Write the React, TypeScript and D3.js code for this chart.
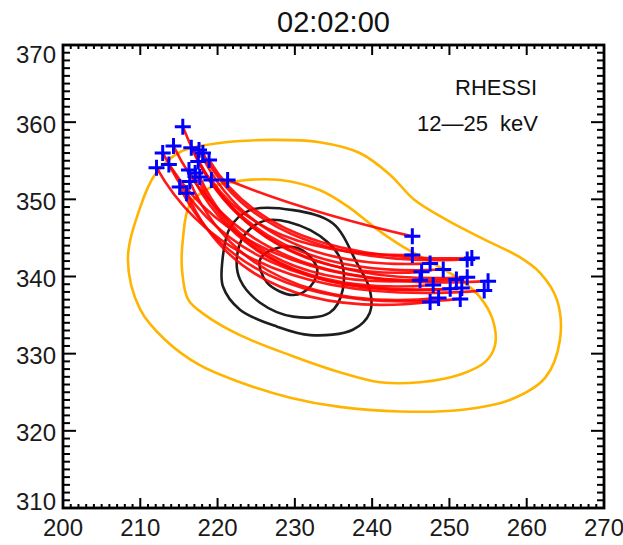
import React from "react";
import * as d3 from "d3";

// Axis ranges and tick labels (arcsec)
const X_DOMAIN: [number, number] = [200, 270];
const Y_DOMAIN: [number, number] = [310, 370];
const X_TICKS = [200, 210, 220, 230, 240, 250, 260, 270];
const Y_TICKS = [310, 320, 330, 340, 350, 360, 370];

const TITLE = "02:02:00";
const INSTRUMENT = "RHESSI";
const ENERGY_BAND = "12—25  keV";

// RHESSI 12-25 keV contour levels (outer to inner), as [x, y] in arcsec
const ORANGE_OUTER: [number, number][] = [
  [210.0, 349.0], [208.4, 342.2], [210.0, 335.7], [213.2, 331.8], [217.7, 328.5],
  [222.9, 326.3], [229.4, 324.3], [235.8, 323.1], [243.6, 322.5], [251.4, 322.7],
  [257.8, 324.0], [262.4, 326.9], [264.3, 331.8], [263.9, 337.0], [261.7, 340.5],
  [259.1, 342.5], [253.9, 345.1], [249.7, 347.3], [245.5, 349.9], [242.3, 353.2],
  [238.4, 356.0], [233.2, 357.4], [226.8, 357.7], [220.3, 357.3], [215.1, 356.1],
  [211.9, 353.2],
];
const ORANGE_INNER: [number, number][] = [
  [215.5, 344.7], [215.4, 340.9], [216.2, 337.0], [218.4, 335.0], [222.9, 332.4],
  [229.4, 329.8], [235.8, 327.6], [241.0, 326.3], [246.2, 326.3], [251.4, 327.3],
  [254.6, 328.9], [255.9, 331.1], [255.6, 334.4], [253.9, 337.4], [251.4, 339.6],
  [247.5, 341.9], [243.6, 344.1], [240.4, 346.3], [237.1, 348.9], [233.2, 351.2],
  [228.1, 352.5], [222.9, 352.4], [219.0, 351.5], [216.4, 349.3],
];
const BLACK_OUTER: [number, number][] = [
  [220.6, 341.8], [220.7, 338.7], [222.9, 335.7], [227.7, 333.5], [232.0, 332.4],
  [237.5, 333.1], [239.7, 335.3], [239.7, 338.3], [238.0, 341.8], [234.9, 346.9],
  [229.8, 348.6], [224.2, 348.6], [221.6, 346.3],
];
const BLACK_MIDDLE: [number, number][] = [
  [222.5, 342.5], [222.9, 339.6], [225.5, 336.6], [229.8, 334.8], [234.5, 335.3],
  [236.2, 338.3], [235.8, 342.5], [232.0, 346.0], [226.4, 347.3], [223.5, 345.4],
];
const BLACK_INNER: [number, number][] = [
  [225.5, 342.2], [226.4, 339.2], [229.8, 337.6], [232.0, 338.7], [232.9, 340.9],
  [231.0, 343.4], [228.1, 343.8],
];

// Field lines: start footpoint, bend point, end footpoint (arcsec)
const LOOP_START: [number, number][] = [
  [221.3, 352.5], [219.2, 352.5], [218.9, 355.1], [218.1, 356.0], [217.6, 356.4],
  [216.6, 356.7], [215.5, 359.4], [217.5, 354.9], [214.3, 356.9], [217.7, 352.9],
  [212.9, 356.0], [217.1, 353.4], [213.7, 354.5], [216.3, 353.8], [212.1, 354.1],
  [216.4, 352.3], [215.1, 351.6], [216.0, 350.8],
];
const LOOP_BEND: [number, number][] = [
  [231.0, 348.5], [226.0, 342.5], [227.0, 341.5], [226.0, 341.0], [225.0, 340.5],
  [224.5, 339.5], [223.5, 339.0], [226.0, 338.5], [223.5, 338.0], [224.5, 338.0],
  [223.0, 337.5], [224.5, 337.0], [223.0, 336.5], [224.5, 336.5], [222.5, 335.5],
  [224.0, 335.0], [223.5, 334.5], [223.5, 334.0],
];
const LOOP_END: [number, number][] = [
  [245.2, 345.2], [245.2, 342.8], [252.9, 342.4], [252.3, 342.2], [247.5, 341.7],
  [249.2, 340.9], [246.4, 340.6], [252.3, 339.9], [250.9, 339.6], [246.2, 339.5],
  [255.0, 339.4], [247.9, 338.9], [251.6, 338.5], [250.1, 338.4], [254.5, 338.2],
  [248.6, 337.2], [251.4, 337.1], [247.5, 336.7],
];

const W = 623;
const H = 545;
const LEFT = 63;
const RIGHT = 604;
const TOP = 45;
const BOTTOM = 508;

const FONT = "'Liberation Sans', Arial, Helvetica, sans-serif";
const ORANGE = "#ffb400";

export default function App() {
  const x = d3.scaleLinear().domain(X_DOMAIN).range([LEFT, RIGHT]);
  const y = d3.scaleLinear().domain(Y_DOMAIN).range([BOTTOM, TOP]);

  const closed = d3
    .line<[number, number]>()
    .x((d) => x(d[0]))
    .y((d) => y(d[1]))
    .curve(d3.curveCatmullRomClosed.alpha(0.5));

  const loopPath = (i: number) => {
    const p = d3.path();
    const [x0, y0] = LOOP_START[i];
    const [xc, yc] = LOOP_BEND[i];
    const [x1, y1] = LOOP_END[i];
    p.moveTo(x(x0), y(y0));
    p.quadraticCurveTo(x(xc), y(yc), x(x1), y(y1));
    return p.toString();
  };

  const crosses = [...LOOP_START, ...LOOP_END];
  const arm = 8;

  const xMinor = d3.range(X_DOMAIN[0], X_DOMAIN[1] + 0.5, 1);
  const yMinor = d3.range(Y_DOMAIN[0], Y_DOMAIN[1] + 0.5, 1);

  const yLabelPos = (v: number) => Math.min(501, Math.max(54, y(v) + 2));

  return (
    <svg
      width={W}
      height={H}
      style={{ position: "absolute", left: 0, top: 0, background: "#fff" }}
    >
      <rect x={0} y={0} width={W} height={H} fill="#fff" />

      <text
        x={(LEFT + RIGHT) / 2}
        y={22}
        textAnchor="middle"
        dominantBaseline="central"
        fontFamily={FONT}
        fontSize={29}
        fill="#111"
      >
        {TITLE}
      </text>

      {/* contours */}
      <g fill="none" strokeLinejoin="round">
        <path d={closed(ORANGE_OUTER) ?? ""} stroke={ORANGE} strokeWidth={2.6} />
        <path d={closed(ORANGE_INNER) ?? ""} stroke={ORANGE} strokeWidth={2.6} />
        <path d={closed(BLACK_OUTER) ?? ""} stroke="#1e1e1e" strokeWidth={2.6} />
        <path d={closed(BLACK_MIDDLE) ?? ""} stroke="#1e1e1e" strokeWidth={2.6} />
        <path d={closed(BLACK_INNER) ?? ""} stroke="#1e1e1e" strokeWidth={2.6} />
      </g>

      {/* field lines */}
      <g fill="none" stroke="#ff0000" strokeWidth={2.6} strokeOpacity={0.9}>
        {LOOP_START.map((_, i) => (
          <path key={i} d={loopPath(i)} />
        ))}
      </g>

      {/* footpoints */}
      <g stroke="#0000ff" strokeWidth={3}>
        {crosses.map(([cx, cy], i) => (
          <path
            key={i}
            d={`M${x(cx) - arm},${y(cy)}H${x(cx) + arm}M${x(cx)},${y(cy) - arm}V${y(cy) + arm}`}
          />
        ))}
      </g>

      <text
        x={537}
        y={87}
        textAnchor="end"
        dominantBaseline="central"
        fontFamily={FONT}
        fontSize={22}
        fill="#111"
      >
        {INSTRUMENT}
      </text>
      <text
        x={538}
        y={123}
        textAnchor="end"
        dominantBaseline="central"
        fontFamily={FONT}
        fontSize={22}
        fill="#111"
        style={{ whiteSpace: "pre" }}
      >
        {ENERGY_BAND}
      </text>

      {/* ticks */}
      <g stroke="#000" strokeWidth={2}>
        {xMinor.map((v) => {
          const major = v % 10 === 0;
          const len = major ? 10 : 4;
          return (
            <g key={`x${v}`}>
              <line x1={x(v)} x2={x(v)} y1={BOTTOM} y2={BOTTOM - len} />
              <line x1={x(v)} x2={x(v)} y1={TOP} y2={TOP + len} />
            </g>
          );
        })}
        {yMinor.map((v) => {
          const major = v % 10 === 0;
          const len = major ? 13 : 7;
          return (
            <g key={`y${v}`}>
              <line x1={LEFT} x2={LEFT + len} y1={y(v)} y2={y(v)} />
              <line x1={RIGHT} x2={RIGHT - len} y1={y(v)} y2={y(v)} />
            </g>
          );
        })}
      </g>

      <rect
        x={LEFT}
        y={TOP}
        width={RIGHT - LEFT}
        height={BOTTOM - TOP}
        fill="none"
        stroke="#000"
        strokeWidth={2.8}
      />

      {/* tick labels */}
      <g fontFamily={FONT} fontSize={24} fill="#1a1a1a">
        {X_TICKS.map((v) => (
          <text
            key={`xl${v}`}
            x={x(v)}
            y={527}
            textAnchor="middle"
            dominantBaseline="central"
          >
            {v}
          </text>
        ))}
        {Y_TICKS.map((v) => (
          <text
            key={`yl${v}`}
            x={56}
            y={yLabelPos(v)}
            textAnchor="end"
            dominantBaseline="central"
          >
            {v}
          </text>
        ))}
      </g>
    </svg>
  );
}
